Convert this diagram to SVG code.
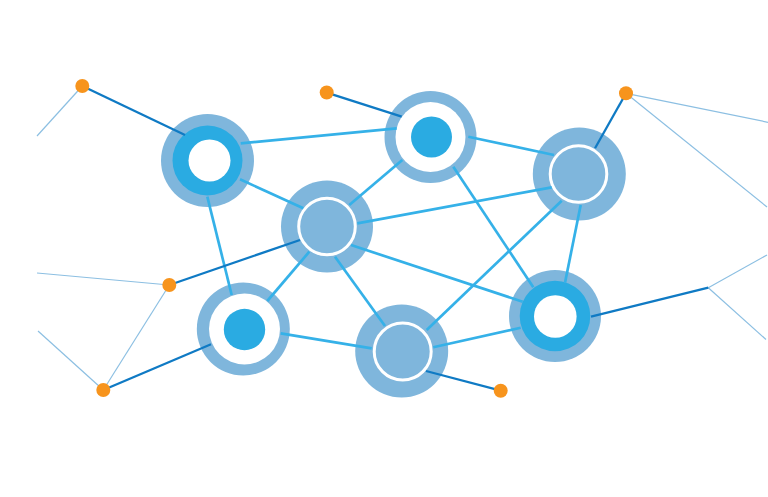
<svg xmlns="http://www.w3.org/2000/svg" width="768" height="497" viewBox="0 0 768 497">
<style>
.halo{fill:#7fb6dc}
.core{fill:#2aabe2}
.hole{fill:#ffffff}
.wring{fill:#7fb6dc;stroke:#ffffff;stroke-width:3}
.dot{fill:#f7941d}
.thin{stroke:#8cbfe2;stroke-width:1.2;fill:none}
.dark{stroke:#0f7ac4;stroke-width:2.3;fill:none}
.link{stroke:#35b1e8;stroke-width:2.7;fill:none}
</style>
<rect width="768" height="497" fill="#ffffff"/>
<g id="thin-lines">
<line class="thin" x1="82.3" y1="86" x2="37" y2="136"/>
<line class="thin" x1="169.3" y1="285" x2="37" y2="273"/>
<line class="thin" x1="169.3" y1="285" x2="103.3" y2="390"/>
<line class="thin" x1="103.3" y1="390" x2="38" y2="331"/>
<line class="thin" x1="626" y1="93.3" x2="768" y2="122.3"/>
<line class="thin" x1="626" y1="93.3" x2="767" y2="207"/>
<line class="thin" x1="708.3" y1="287.7" x2="767" y2="255"/>
<line class="thin" x1="708.3" y1="287.7" x2="766" y2="339.5"/>
</g>
<g id="node-A">
<circle class="halo" cx="207.5" cy="160.5" r="46.5"/>
<circle class="core" cx="207.5" cy="160.5" r="35"/>
<circle class="hole" cx="209.5" cy="160.5" r="21"/>
</g>
<g id="node-B">
<circle class="halo" cx="430.5" cy="137" r="46"/>
<circle class="hole" cx="430.5" cy="137" r="35"/>
<circle class="core" cx="431.5" cy="137" r="20.5"/>
</g>
<g id="node-C">
<circle class="halo" cx="327" cy="226.5" r="46"/>
<circle class="wring" cx="327" cy="226.5" r="28.3"/>
</g>
<g id="node-D">
<circle class="halo" cx="579.3" cy="174" r="46.5"/>
<circle class="wring" cx="578.5" cy="174" r="28.3"/>
</g>
<g id="node-E">
<circle class="halo" cx="555" cy="316" r="46"/>
<circle class="core" cx="555" cy="316" r="35.3"/>
<circle class="hole" cx="555.3" cy="316.5" r="21.3"/>
</g>
<g id="node-F">
<circle class="halo" cx="243.3" cy="329" r="46.5"/>
<circle class="hole" cx="244.5" cy="329" r="35.5"/>
<circle class="core" cx="244.5" cy="329.5" r="20.7"/>
</g>
<g id="node-G">
<circle class="halo" cx="401.7" cy="351" r="46.5"/>
<circle class="wring" cx="402.7" cy="351.5" r="28.5"/>
</g>
<g id="connectors">
<line class="link" x1="240.7" y1="143.3" x2="396.7" y2="128.3"/>
<line class="link" x1="240" y1="179.3" x2="303.3" y2="208.3"/>
<line class="link" x1="207.3" y1="196.7" x2="231.7" y2="295"/>
<line class="link" x1="402.3" y1="160" x2="349.3" y2="205"/>
<line class="link" x1="468.3" y1="136.7" x2="554" y2="155"/>
<line class="link" x1="453.3" y1="166.7" x2="533.3" y2="287.3"/>
<line class="link" x1="357.3" y1="223.3" x2="551.7" y2="187.3"/>
<line class="link" x1="351" y1="245" x2="522.7" y2="301.7"/>
<line class="link" x1="309.3" y1="251.7" x2="267.3" y2="301"/>
<line class="link" x1="335" y1="256.7" x2="385" y2="326"/>
<line class="link" x1="561.7" y1="200.7" x2="426.7" y2="330"/>
<line class="link" x1="580.7" y1="205" x2="565" y2="282.7"/>
<line class="link" x1="433.3" y1="347.3" x2="520.7" y2="327.7"/>
<line class="link" x1="280.7" y1="333.3" x2="371.7" y2="348.3"/>
<line class="dark" x1="82.3" y1="86" x2="185" y2="135"/>
<line class="dark" x1="326.7" y1="92.7" x2="401.7" y2="116.7"/>
<line class="dark" x1="626" y1="93.3" x2="595" y2="148.3"/>
<line class="dark" x1="169.3" y1="285" x2="300" y2="240"/>
<line class="dark" x1="103.3" y1="390" x2="211" y2="344.3"/>
<line class="dark" x1="426" y1="371" x2="500.7" y2="390.7"/>
<line class="dark" x1="591" y1="316.7" x2="708.3" y2="287.7"/>
</g>
<g id="dot-1"><circle class="dot" cx="82.3" cy="86" r="7"/></g>
<g id="dot-2"><circle class="dot" cx="326.7" cy="92.5" r="7"/></g>
<g id="dot-3"><circle class="dot" cx="626" cy="93.3" r="7"/></g>
<g id="dot-4"><circle class="dot" cx="169.3" cy="285" r="7"/></g>
<g id="dot-5"><circle class="dot" cx="103.3" cy="390" r="7"/></g>
<g id="dot-6"><circle class="dot" cx="500.7" cy="390.7" r="7"/></g>
</svg>
